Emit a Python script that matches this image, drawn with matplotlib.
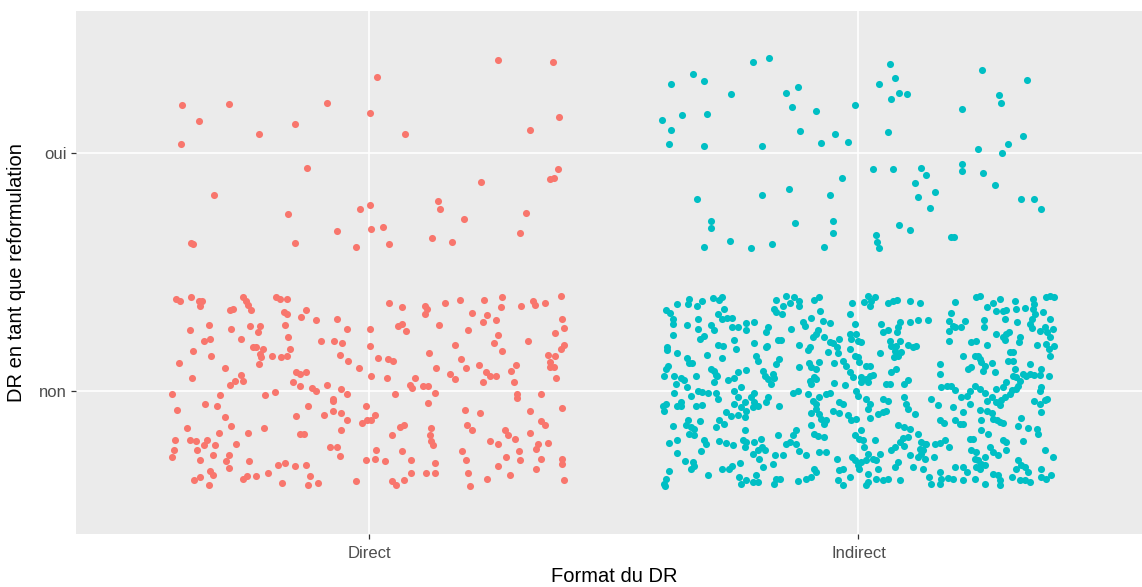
import matplotlib
matplotlib.use("Agg")
import matplotlib.pyplot as plt
import numpy as np

plt.rcParams['font.family'] = ['Liberation Sans', 'DejaVu Sans']

# categories / levels
formats = ["Direct", "Indirect"]          # x positions 1, 2
responses = ["non", "oui"]                # y positions 1, 2
colors = {"Direct": "#F8766D", "Indirect": "#00BFC4"}
x_title = "Format du DR"
y_title = "DR en tant que reformulation"

direct_oui = [
    (0.618, 2.201), (0.713, 2.207), (0.913, 2.212), (0.651, 2.134), (1.001, 2.170),
    (0.848, 2.123), (0.775, 2.079), (0.615, 2.039), (1.016, 2.321), (0.872, 1.940),
    (0.683, 1.824), (0.834, 1.746), (0.981, 1.764), (1.001, 1.782), (0.934, 1.673),
    (1.004, 1.680), (0.636, 1.624), (0.640, 1.618), (0.848, 1.624), (0.972, 1.607),
    (1.263, 2.394), (1.376, 2.382), (1.388, 2.152), (1.072, 2.079), (1.329, 2.097),
    (1.385, 1.934), (1.370, 1.892), (1.377, 1.897), (1.229, 1.879), (1.140, 1.800),
    (1.144, 1.764), (1.193, 1.722), (1.320, 1.751), (1.028, 1.691), (1.040, 1.618),
    (1.128, 1.644), (1.169, 1.629), (1.308, 1.667),
]

direct_non = [
    (0.605, 1.388), (0.612, 1.381), (0.636, 1.398), (0.652, 1.381), (0.658, 1.381),
    (0.653, 1.360), (0.715, 1.342), (0.721, 1.346), (0.742, 1.398), (0.747, 1.381),
    (0.752, 1.364), (0.759, 1.342), (0.810, 1.398), (0.817, 1.388), (0.831, 1.388),
    (0.825, 1.332), (0.832, 1.325), (0.871, 1.342), (0.860, 1.311), (0.892, 1.300),
    (0.934, 1.304), (0.955, 1.262), (0.633, 1.258), (0.672, 1.280), (0.718, 1.262),
    (0.757, 1.276), (0.777, 1.276), (0.773, 1.251), (0.827, 1.280), (0.834, 1.227),
    (0.663, 1.213), (0.674, 1.220), (0.738, 1.220), (0.901, 1.213), (0.927, 1.209),
    (0.945, 1.202), (0.640, 1.167), (0.677, 1.147), (0.762, 1.185), (0.769, 1.185),
    (0.783, 1.178), (0.776, 1.157), (0.779, 1.143), (0.775, 1.115), (0.802, 1.147),
    (0.820, 1.143), (0.831, 1.150), (0.837, 1.178), (0.940, 1.153), (0.957, 1.129),
    (0.979, 1.098), (0.610, 1.118), (0.704, 1.098), (0.638, 1.056), (0.738, 1.070),
    (0.742, 1.045), (0.725, 1.042), (0.716, 1.027), (0.851, 1.080), (0.858, 1.073),
    (0.871, 1.080), (0.844, 1.038), (0.858, 1.024), (0.882, 1.014), (0.891, 1.000),
    (0.914, 1.027), (0.943, 1.010), (0.955, 0.989), (0.597, 0.989), (0.695, 0.985),
    (0.786, 0.985), (0.807, 0.996), (0.607, 0.923), (0.665, 0.947), (0.689, 0.936),
    (0.704, 0.892), (0.875, 0.936), (0.851, 0.894), (0.907, 0.899), (0.925, 0.968),
    (0.925, 0.958), (0.925, 0.916), (0.943, 0.910), (0.955, 0.881), (0.986, 0.868),
    (0.627, 0.845), (0.718, 0.852), (0.693, 0.826), (0.751, 0.826), (0.784, 0.845),
    (0.858, 0.821), (0.866, 0.821), (0.943, 0.838), (0.603, 0.796), (0.633, 0.796),
    (0.645, 0.790), (0.669, 0.796), (0.663, 0.772), (0.684, 0.775), (0.648, 0.754),
    (0.728, 0.779), (0.600, 0.754), (0.597, 0.723), (0.680, 0.730), (0.713, 0.730),
    (0.708, 0.706), (0.654, 0.712), (0.713, 0.677), (0.754, 0.706), (0.919, 0.765),
    (0.934, 0.765), (0.940, 0.728), (0.674, 0.664), (0.680, 0.650), (0.642, 0.625),
    (0.654, 0.639), (0.672, 0.608), (0.742, 0.632), (0.749, 0.643), (0.769, 0.643),
    (0.792, 0.657), (0.813, 0.692), (0.828, 0.699), (0.848, 0.686), (0.871, 0.692),
    (0.878, 0.643), (0.875, 0.608), (0.896, 0.614), (0.822, 0.614), (0.972, 0.621),
    (1.040, 1.371), (1.067, 1.353), (1.114, 1.360), (1.118, 1.346), (1.114, 1.325),
    (1.154, 1.371), (1.185, 1.384), (1.234, 1.384), (1.272, 1.395), (1.270, 1.353),
    (1.311, 1.360), (1.335, 1.378), (1.339, 1.364), (1.359, 1.371), (1.391, 1.399),
    (1.210, 1.329), (1.240, 1.322), (1.232, 1.291), (1.258, 1.300), (1.143, 1.280),
    (1.058, 1.274), (1.067, 1.283), (1.076, 1.255), (1.002, 1.262), (1.202, 1.258),
    (1.264, 1.238), (1.255, 1.202), (1.272, 1.171), (1.325, 1.209), (1.394, 1.304),
    (1.399, 1.267), (1.380, 1.245), (1.002, 1.189), (1.176, 1.196), (1.397, 1.196),
    (1.391, 1.178), (1.017, 1.141), (1.039, 1.136), (1.049, 1.129), (1.122, 1.160),
    (1.187, 1.136), (1.365, 1.153), (1.380, 1.146), (1.369, 1.122), (1.369, 1.101),
    (1.378, 1.101), (1.004, 1.063), (1.037, 1.056), (1.093, 1.056), (1.137, 1.098),
    (1.164, 1.074), (1.176, 1.050), (1.197, 1.099), (1.225, 1.111), (1.238, 1.080),
    (1.247, 1.063), (1.258, 1.063), (1.232, 1.038), (1.289, 1.087), (1.300, 1.111),
    (1.296, 1.038), (1.382, 1.056), (1.084, 1.027), (1.088, 1.014), (1.110, 1.020),
    (1.120, 1.020), (1.052, 0.989), (1.135, 0.994), (1.120, 0.952), (1.302, 0.989),
    (1.302, 0.971), (1.350, 0.989), (0.994, 0.940), (1.011, 0.898), (1.004, 0.877),
    (0.996, 0.877), (1.196, 0.923), (1.226, 0.910), (1.329, 0.916), (1.393, 0.930),
    (1.047, 0.814), (1.062, 0.849), (1.071, 0.859), (1.126, 0.846), (1.124, 0.814),
    (1.127, 0.790), (1.131, 0.772), (1.199, 0.859), (1.210, 0.838), (1.277, 0.838),
    (1.283, 0.814), (1.297, 0.801), (1.329, 0.825), (1.350, 0.874), (1.359, 0.856),
    (1.247, 0.790), (1.264, 0.777), (1.344, 0.777), (1.341, 0.758), (1.365, 0.783),
    (1.014, 0.754), (0.994, 0.712), (1.011, 0.717), (1.032, 0.706), (1.066, 0.747),
    (1.085, 0.712), (1.135, 0.699), (1.116, 0.657), (1.135, 0.657), (1.085, 0.657),
    (1.190, 0.747), (1.197, 0.712), (1.202, 0.657), (1.279, 0.723), (1.264, 0.686),
    (1.306, 0.747), (1.308, 0.712), (1.350, 0.717), (1.341, 0.675), (1.394, 0.717),
    (1.394, 0.693), (1.047, 0.621), (1.054, 0.606), (1.070, 0.626), (1.240, 0.632),
    (1.287, 0.650), (1.206, 0.601), (1.397, 0.626),
]

indirect_oui = [
    (1.785, 2.382), (1.817, 2.400), (1.661, 2.334), (1.617, 2.291), (1.684, 2.303),
    (1.740, 2.249), (1.852, 2.255), (1.876, 2.279), (1.864, 2.194), (1.914, 2.176),
    (1.992, 2.201), (1.599, 2.139), (1.640, 2.159), (1.690, 2.163), (1.617, 2.096),
    (1.881, 2.092), (1.952, 2.079), (1.923, 2.043), (1.979, 2.048), (1.613, 2.037),
    (1.684, 2.030), (1.802, 2.030), (1.967, 1.897), (1.669, 1.806), (1.802, 1.824),
    (1.857, 1.850), (1.941, 1.824), (1.699, 1.716), (1.699, 1.684), (1.870, 1.709),
    (1.947, 1.716), (1.947, 1.666), (1.684, 1.607), (1.738, 1.631), (1.781, 1.600),
    (1.823, 1.618), (1.929, 1.607),
    (2.065, 2.376), (2.253, 2.352), (2.074, 2.316), (2.344, 2.310), (2.041, 2.291),
    (2.082, 2.255), (2.100, 2.249), (2.067, 2.230), (2.288, 2.243), (2.292, 2.212),
    (2.212, 2.188), (2.061, 2.090), (2.336, 2.074), (2.306, 2.037), (2.244, 2.019),
    (2.294, 2.001), (2.029, 1.934), (2.071, 1.934), (2.127, 1.940), (2.138, 1.910),
    (2.212, 1.953), (2.212, 1.926), (2.254, 1.915), (2.115, 1.873), (2.156, 1.837),
    (2.121, 1.818), (2.280, 1.868), (2.147, 1.770), (2.333, 1.806), (2.359, 1.806),
    (2.374, 1.764), (2.082, 1.697), (2.106, 1.679), (2.035, 1.655), (2.038, 1.629),
    (2.041, 1.600), (2.190, 1.648), (2.195, 1.648),
]

indirect_non = [
    (1.606, 1.342), (1.615, 1.328), (1.620, 1.304), (1.620, 1.283), (1.630, 1.367),
    (1.654, 1.388), (1.652, 1.367), (1.670, 1.360), (1.681, 1.378), (1.702, 1.392),
    (1.715, 1.384), (1.720, 1.398), (1.726, 1.346), (1.713, 1.325), (1.720, 1.304),
    (1.731, 1.308), (1.741, 1.308), (1.649, 1.280), (1.672, 1.304), (1.671, 1.262),
    (1.698, 1.280), (1.705, 1.258), (1.675, 1.220), (1.685, 1.234), (1.620, 1.238),
    (1.741, 1.272), (1.753, 1.269), (1.770, 1.286), (1.770, 1.258), (1.609, 1.185),
    (1.609, 1.174), (1.630, 1.160), (1.649, 1.140), (1.654, 1.118), (1.659, 1.118),
    (1.690, 1.153), (1.713, 1.196), (1.724, 1.188), (1.720, 1.140), (1.745, 1.216),
    (1.750, 1.178), (1.610, 1.104), (1.606, 1.094), (1.602, 1.062), (1.623, 1.062),
    (1.627, 1.031), (1.637, 1.056), (1.644, 1.048), (1.668, 1.062), (1.649, 1.017),
    (1.698, 1.094), (1.705, 1.087), (1.709, 1.070), (1.705, 1.038), (1.711, 1.066),
    (1.734, 1.048), (1.746, 1.056), (1.753, 1.080), (1.770, 1.090), (1.622, 0.992),
    (1.657, 0.982), (1.671, 1.000), (1.681, 0.996), (1.692, 0.992), (1.709, 0.992),
    (1.712, 0.968), (1.746, 1.003), (1.753, 0.975), (1.760, 1.017), (1.767, 0.954),
    (1.600, 0.940), (1.606, 0.947), (1.603, 0.916), (1.630, 0.940), (1.637, 0.954),
    (1.638, 0.940), (1.668, 0.936), (1.681, 0.944), (1.729, 0.912), (1.739, 0.894),
    (1.753, 0.898), (1.767, 0.891), (1.746, 0.947), (1.760, 0.933), (1.770, 0.919),
    (1.620, 0.852), (1.651, 0.877), (1.647, 0.860), (1.657, 0.849), (1.654, 0.821),
    (1.664, 0.814), (1.663, 0.842), (1.675, 0.874), (1.709, 0.849), (1.715, 0.880),
    (1.726, 0.863), (1.767, 0.838), (1.613, 0.783), (1.630, 0.796), (1.685, 0.793),
    (1.688, 0.779), (1.678, 0.747), (1.715, 0.790), (1.729, 0.782), (1.743, 0.772),
    (1.763, 0.793), (1.767, 0.765), (1.770, 0.786), (1.628, 0.741), (1.645, 0.706),
    (1.661, 0.702), (1.663, 0.684), (1.657, 0.674), (1.693, 0.650), (1.722, 0.674),
    (1.736, 0.674), (1.741, 0.684), (1.758, 0.699), (1.613, 0.663), (1.606, 0.632),
    (1.603, 0.611), (1.604, 0.600), (1.756, 0.639), (1.760, 0.611), (1.770, 0.625),
    (1.832, 1.384), (1.852, 1.400), (1.869, 1.395), (1.878, 1.381), (1.879, 1.360),
    (1.845, 1.360), (1.828, 1.346), (1.832, 1.332), (1.844, 1.325), (1.859, 1.370),
    (1.910, 1.384), (1.920, 1.398), (1.922, 1.336), (1.903, 1.308), (1.886, 1.290),
    (1.890, 1.276), (1.927, 1.294), (1.941, 1.286), (1.987, 1.370), (1.982, 1.325),
    (1.787, 1.290), (1.815, 1.269), (1.811, 1.248), (1.862, 1.262), (1.917, 1.258),
    (1.913, 1.241), (1.907, 1.227), (1.900, 1.185), (1.896, 1.174), (1.930, 1.227),
    (1.941, 1.206), (1.948, 1.202), (1.937, 1.164), (1.956, 1.185), (1.958, 1.160),
    (1.961, 1.220), (1.982, 1.241), (1.985, 1.220), (1.982, 1.178), (1.835, 1.216),
    (1.842, 1.216), (1.787, 1.202), (1.810, 1.185), (1.812, 1.188), (1.791, 1.150),
    (1.794, 1.129), (1.838, 1.136), (1.832, 1.115), (1.878, 1.196), (1.898, 1.118),
    (1.903, 1.101), (1.913, 1.094), (1.920, 1.122), (1.910, 1.059), (1.900, 1.045),
    (1.903, 1.031), (1.913, 1.052), (1.949, 1.118), (1.968, 1.126), (1.975, 1.104),
    (1.982, 1.080), (1.988, 1.059), (1.879, 1.101), (1.804, 1.087), (1.808, 1.062),
    (1.815, 1.052), (1.821, 1.031), (1.826, 1.073), (1.828, 1.056), (1.949, 1.034),
    (1.973, 1.027), (1.787, 0.992), (1.780, 0.975), (1.787, 0.954), (1.794, 0.940),
    (1.784, 0.933), (1.815, 0.975), (1.810, 0.954), (1.838, 0.940), (1.866, 0.992),
    (1.876, 1.000), (1.896, 0.989), (1.907, 0.961), (1.913, 0.947), (1.920, 0.975),
    (1.913, 0.926), (1.920, 0.905), (1.924, 0.884), (1.930, 0.863), (1.934, 0.877),
    (1.934, 0.989), (1.941, 0.992), (1.948, 0.916), (1.961, 0.954), (1.968, 0.947),
    (1.960, 0.908), (1.978, 0.902), (1.903, 0.908), (1.985, 0.877), (1.903, 0.860),
    (1.910, 0.821), (1.917, 0.811), (1.930, 0.807), (1.835, 0.814), (1.872, 0.838),
    (1.867, 0.814), (1.859, 0.786), (1.851, 0.779), (1.872, 0.779), (1.879, 0.748),
    (1.893, 0.730), (1.920, 0.744), (1.934, 0.744), (1.801, 0.800), (1.787, 0.786),
    (1.803, 0.765), (1.794, 0.751), (1.808, 0.751), (1.785, 0.737), (1.797, 0.716),
    (1.804, 0.681), (1.830, 0.730), (1.845, 0.730), (1.825, 0.695), (1.956, 0.716),
    (1.987, 0.723), (1.968, 0.674), (1.960, 0.667), (1.982, 0.639), (1.910, 0.674),
    (1.913, 0.660), (1.903, 0.639), (1.893, 0.632), (1.876, 0.622), (1.791, 0.646),
    (1.794, 0.618), (1.784, 0.618), (1.832, 0.632), (1.840, 0.632), (1.828, 0.611),
    (1.958, 0.625), (1.968, 0.604),
    (2.019, 1.400), (2.012, 1.374), (2.023, 1.360), (2.034, 1.398), (2.026, 1.381),
    (2.060, 1.370), (2.070, 1.378), (2.079, 1.384), (2.105, 1.378), (2.125, 1.370),
    (2.197, 1.374), (2.190, 1.328), (2.186, 1.297), (2.193, 1.276), (2.186, 1.255),
    (2.197, 1.269), (2.186, 1.213), (2.045, 1.283), (2.050, 1.248), (2.060, 1.258),
    (2.084, 1.290), (2.081, 1.269), (2.079, 1.248), (2.084, 1.213), (2.077, 1.192),
    (2.105, 1.290), (2.122, 1.300), (2.142, 1.300), (1.992, 1.283), (1.995, 1.241),
    (2.000, 1.213), (2.006, 1.206), (2.064, 1.213), (2.067, 1.192), (2.074, 1.171),
    (2.072, 1.143), (2.081, 1.150), (2.087, 1.164), (2.101, 1.196), (2.111, 1.185),
    (2.118, 1.188), (1.992, 1.150), (2.002, 1.122), (1.999, 1.143), (2.023, 1.104),
    (2.016, 1.108), (2.043, 1.160), (2.066, 1.080), (2.077, 1.094), (2.006, 1.059),
    (2.016, 1.052), (2.023, 1.066), (2.030, 1.070), (2.019, 1.038), (2.006, 1.038),
    (2.057, 1.031), (2.064, 1.031), (2.094, 1.031), (2.101, 1.048), (2.166, 1.115),
    (2.166, 1.073), (2.169, 1.017), (2.180, 1.020), (2.190, 1.024), (2.197, 1.006),
    (1.995, 1.003), (2.000, 0.982), (2.016, 0.968), (2.023, 0.947), (2.019, 0.926),
    (2.050, 0.968), (2.060, 0.961), (2.094, 0.975), (2.098, 0.947), (2.101, 0.926),
    (2.115, 0.905), (2.149, 0.968), (2.163, 0.944), (2.193, 0.933), (2.040, 0.905),
    (2.050, 0.912), (2.057, 0.916), (1.995, 0.884), (2.023, 0.888), (2.166, 0.880),
    (2.175, 0.866), (2.197, 0.877), (2.081, 0.856), (2.094, 0.849), (2.105, 0.842),
    (2.122, 0.821), (2.006, 0.835), (1.992, 0.814), (2.002, 0.800), (2.009, 0.793),
    (2.033, 0.793), (2.091, 0.804), (2.101, 0.807), (2.084, 0.786), (2.094, 0.768),
    (2.074, 0.765), (2.067, 0.751), (2.128, 0.786), (2.135, 0.779), (2.125, 0.758),
    (2.132, 0.751), (2.128, 0.737), (2.122, 0.723), (2.135, 0.716), (2.139, 0.779),
    (2.156, 0.779), (2.166, 0.782), (2.176, 0.793), (2.186, 0.765), (2.012, 0.765),
    (2.019, 0.737), (2.016, 0.709), (2.006, 0.702), (2.043, 0.737), (2.030, 0.716),
    (2.036, 0.709), (2.105, 0.730), (2.154, 0.723), (1.992, 0.709), (2.002, 0.674),
    (1.999, 0.688), (2.019, 0.653), (2.040, 0.674), (2.081, 0.702), (2.074, 0.681),
    (2.111, 0.681), (2.132, 0.674), (2.166, 0.660), (2.169, 0.632), (2.166, 0.611),
    (2.197, 0.681), (2.019, 0.618), (2.016, 0.604), (2.036, 0.632), (2.050, 0.625),
    (2.060, 0.632), (2.084, 0.628), (2.145, 0.639), (2.149, 0.611), (2.183, 0.636),
    (2.193, 0.632),
    (2.241, 1.395), (2.248, 1.400), (2.262, 1.356), (2.275, 1.370), (2.289, 1.388),
    (2.282, 1.336), (2.296, 1.336), (2.302, 1.342), (2.299, 1.304), (2.320, 1.381),
    (2.322, 1.346), (2.340, 1.350), (2.357, 1.388), (2.358, 1.367), (2.357, 1.346),
    (2.360, 1.325), (2.354, 1.304), (2.378, 1.332), (2.383, 1.398), (2.391, 1.400),
    (2.399, 1.398), (2.217, 1.297), (2.210, 1.269), (2.256, 1.300), (2.256, 1.269),
    (2.281, 1.241), (2.296, 1.227), (2.302, 1.241), (2.308, 1.248), (2.299, 1.216),
    (2.324, 1.290), (2.350, 1.283), (2.354, 1.266), (2.371, 1.255), (2.381, 1.269),
    (2.386, 1.248), (2.391, 1.227), (2.391, 1.304), (2.397, 1.262), (2.331, 1.227),
    (2.328, 1.206), (2.364, 1.196), (2.384, 1.199), (2.390, 1.178), (2.399, 1.188),
    (2.391, 1.150), (2.231, 1.206), (2.240, 1.210), (2.262, 1.196), (2.214, 1.150),
    (2.238, 1.146), (2.245, 1.150), (2.249, 1.136), (2.251, 1.122), (2.258, 1.108),
    (2.255, 1.087), (2.231, 1.101), (2.224, 1.094), (2.272, 1.118), (2.279, 1.080),
    (2.309, 1.164), (2.316, 1.164), (2.306, 1.126), (2.315, 1.126), (2.320, 1.094),
    (2.316, 1.066), (2.323, 1.059), (2.350, 1.115), (2.374, 1.094), (2.371, 1.070),
    (2.337, 1.073), (2.343, 1.066), (2.350, 1.073), (2.358, 1.070), (2.330, 1.045),
    (2.326, 1.024), (2.322, 1.010), (2.313, 1.006), (2.390, 1.062), (2.302, 1.038),
    (2.296, 1.017), (2.282, 1.010), (2.238, 1.020), (2.227, 1.003), (2.221, 0.982),
    (2.210, 0.975), (2.248, 1.010), (2.258, 0.992), (2.263, 0.961), (2.272, 0.975),
    (2.281, 0.954), (2.292, 0.964), (2.289, 0.944), (2.299, 0.975), (2.309, 0.989),
    (2.374, 1.017), (2.371, 1.003), (2.358, 0.961), (2.371, 0.947), (2.381, 0.964),
    (2.386, 0.968), (2.374, 0.912), (2.227, 0.947), (2.214, 0.912), (2.248, 0.922),
    (2.263, 0.919), (2.272, 0.908), (2.275, 0.884), (2.283, 0.877), (2.289, 0.870),
    (2.296, 0.866), (2.251, 0.877), (2.207, 0.863), (2.214, 0.863), (2.333, 0.888),
    (2.326, 0.852), (2.347, 0.846), (2.364, 0.842), (2.367, 0.821), (2.251, 0.835),
    (2.265, 0.821), (2.296, 0.793), (2.302, 0.786), (2.227, 0.800), (2.234, 0.800),
    (2.337, 0.790), (2.381, 0.754), (2.398, 0.723), (2.231, 0.751), (2.241, 0.744),
    (2.238, 0.716), (2.245, 0.709), (2.241, 0.681), (2.251, 0.695), (2.258, 0.723),
    (2.258, 0.688), (2.248, 0.674), (2.268, 0.765), (2.275, 0.744), (2.285, 0.730),
    (2.302, 0.751), (2.326, 0.709), (2.333, 0.688), (2.323, 0.674), (2.340, 0.681),
    (2.347, 0.660), (2.340, 0.625), (2.350, 0.618), (2.330, 0.628), (2.214, 0.681),
    (2.221, 0.660), (2.214, 0.625), (2.238, 0.632), (2.258, 0.611), (2.275, 0.653),
    (2.285, 0.646), (2.289, 0.625), (2.289, 0.604), (2.313, 0.639), (2.374, 0.674),
    (2.374, 0.639), (2.383, 0.632), (2.394, 0.646),
]

groups = [
    ("Direct", direct_oui), ("Direct", direct_non),
    ("Indirect", indirect_oui), ("Indirect", indirect_non),
]

W, H = 1142, 587
fig = plt.figure(figsize=(W / 100, H / 100), dpi=100)
fig.patch.set_facecolor("white")

# panel geometry (pixels)
left_px, right_px, top_px, bottom_px = 75.8, 1152.0, 10.5, 534.0
ax = fig.add_axes([left_px / W, 1 - bottom_px / H,
                   (right_px - left_px) / W, (bottom_px - top_px) / H])
ax.set_facecolor("#EBEBEB")
for s in ax.spines.values():
    s.set_visible(False)

ax.set_xlim(0.4, 2.6)
ax.set_ylim(0.4, 2.6)
ax.set_xticks([1, 2])
ax.set_xticklabels(formats)
ax.set_yticks([1, 2])
ax.set_yticklabels(responses)
ax.grid(True, color="white", linewidth=1.2)
ax.set_axisbelow(True)
ax.tick_params(axis="both", length=3.5, width=0.9, color="#333333",
               labelcolor="#4D4D4D", labelsize=12, pad=3)
ax.tick_params(axis="x", pad=5)

for fmt, pts in groups:
    arr = np.array(pts)
    ax.scatter(arr[:, 0], arr[:, 1], s=26, color=colors[fmt], linewidths=0,
               zorder=3, clip_on=True)

# axis titles, centred on the panel
fig.text((left_px + right_px) / 2 / W, 1 - 576 / H, x_title,
         fontsize=14.5, color="black", ha="center", va="center")
fig.text(17 / W, 1 - (top_px + bottom_px) / 2 / H, y_title,
         fontsize=14.5, color="black", ha="center", va="center", rotation=90)

fig.savefig("out.png", dpi=100, facecolor="white")
